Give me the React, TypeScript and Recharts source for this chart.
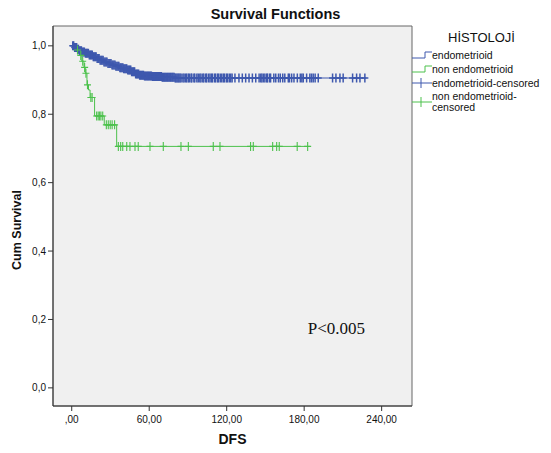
import React from 'react';
import {
  ComposedChart, Line, Scatter, XAxis, YAxis, ReferenceArea, ReferenceDot,
} from 'recharts';

// step points: [time, cumulative survival]
const endoSteps: [number, number][] = [
  [0, 1.0], [2, 0.995], [4, 0.99], [6, 0.986], [8, 0.982], [10, 0.978], [13, 0.973],
  [16, 0.968], [19, 0.963], [22, 0.958], [25, 0.953], [28, 0.948], [31, 0.944],
  [34, 0.94], [37, 0.936], [40, 0.933], [43, 0.929], [46, 0.924], [49, 0.918],
  [52, 0.914], [56, 0.912], [62, 0.91], [70, 0.908], [80, 0.906], [228.3, 0.906],
];

const nonEndoSteps: [number, number][] = [
  [0, 1.0], [3.9, 0.988], [6.4, 0.972], [7.8, 0.955], [9.5, 0.937], [10.5, 0.92],
  [11.8, 0.886], [13.0, 0.871], [14.2, 0.849], [17.7, 0.795], [25.2, 0.769],
  [34.8, 0.706], [184.5, 0.706],
];

const endoCensored: number[] = [
  0.8, 1.5, 2.3, 3.1, 3.8, 4.6, 5.2, 6.0, 6.9, 7.5, 8.3, 9.1, 9.8, 10.6, 11.4, 12.0,
  12.9, 13.6, 14.4, 15.1, 15.9, 16.7, 17.4, 18.2, 18.9, 19.7, 20.5, 21.2, 22.0, 22.8,
  23.5, 24.3, 25.0, 25.8, 26.6, 27.3, 28.1, 28.9, 29.6, 30.4, 31.2, 31.9, 32.7, 33.5,
  34.2, 35.0, 35.8, 36.5, 37.3, 38.0, 38.8, 39.6, 40.3, 41.1, 41.9, 42.6, 43.4, 44.2,
  44.9, 45.7, 46.4, 47.2, 48.0, 48.7, 49.5, 50.3, 51.0, 51.8, 52.6, 53.3, 54.1, 54.9,
  55.6, 56.4, 57.1, 57.9, 58.7, 59.4, 60.2, 61.0, 61.7, 62.5, 63.3, 64.0, 64.8, 65.6,
  66.3, 67.1, 67.8, 68.6, 69.4, 70.1, 70.9, 71.7, 72.4, 73.2, 74.0, 74.7, 75.5, 76.3,
  77.0, 77.8, 78.5, 79.3, 80.1, 80.8, 81.6, 82.4, 83.1, 83.9, 84.7, 86.1, 87.0, 88.2,
  89.0, 90.3, 91.1, 92.4, 93.0, 94.6, 95.3, 96.9, 98.0, 99.2, 100.1, 101.5, 102.3,
  103.8, 104.5, 106.0, 107.1, 108.3, 109.0, 110.6, 111.4, 112.9, 113.6, 115.0, 116.2,
  117.5, 118.3, 119.8, 120.6, 122.0, 123.1, 124.2, 126.4, 129.5, 132.1, 134.7, 137.3,
  139.9, 142.5, 145.1, 146.4, 147.3, 148.5, 149.6, 151.0, 151.6, 153.2, 154.0, 156.5,
  158.0, 160.1, 161.5, 163.4, 165.0, 167.7, 168.6, 170.3, 172.1, 174.7, 177.0, 178.2,
  179.3, 181.9, 184.4, 185.7, 187.0, 188.5, 190.9, 202.0, 204.6, 207.7, 210.2, 217.5,
  220.6, 223.2, 227.0,
];

const nonEndoCensored: number[] = [
  4.5, 7.0, 8.5, 10.0, 11.0, 12.2, 14.8, 15.8, 19.3, 20.5, 21.6, 22.6, 24.0, 26.8,
  28.3, 29.8, 31.3, 33.2, 36.1, 37.9, 39.5, 42.6, 45.1, 49.0, 51.5, 60.6, 70.9, 84.6,
  90.3, 109.6, 114.8, 138.5, 140.6, 155.6, 158.7, 160.7, 174.6, 182.7,
];

const xTicks = [0, 60, 120, 180, 240];
const yTicks = [0, 0.2, 0.4, 0.6, 0.8, 1.0];
const xDomain: [number, number] = [-14.5, 263.5];
const yDomain: [number, number] = [-0.053, 1.058];

const BLUE = '#3e58ae';
const GREEN = '#4cc14c';
const FONT = '"Liberation Sans", Arial, sans-serif';

const toRows = (steps: [number, number][]) => steps.map(([t, s]) => ({ t, s }));
const survAt = (steps: [number, number][], t: number) => {
  let s = steps[0][1];
  for (const [st, sv] of steps) if (st <= t) s = sv;
  return s;
};
const censorRows = (times: number[], steps: [number, number][]) =>
  times.map((t) => ({ t, s: survAt(steps, t) }));

const Plus = (color: string, w: number) => (props: any) => {
  const { cx, cy } = props;
  if (cx == null || cy == null) return <g />;
  return (
    <path
      d={`M${cx},${cy - 4.5}V${cy + 4.5}M${cx - 3.5},${cy}H${cx + 3.5}`}
      stroke={color}
      strokeWidth={w}
      fill="none"
    />
  );
};

const legendItems = [
  { name: 'endometrioid', color: BLUE, kind: 'step' },
  { name: 'non endometrioid', color: GREEN, kind: 'step' },
  { name: 'endometrioid-censored', color: BLUE, kind: 'plus' },
  { name: 'non endometrioid-\ncensored', color: GREEN, kind: 'plus' },
];

const LegendBox = () => (
  <div style={{ position: 'absolute', left: 412, top: 30, fontFamily: FONT, color: '#111' }}>
    <div style={{ fontSize: 13, marginLeft: 36, marginBottom: 4 }}>HİSTOLOJİ</div>
    {legendItems.map((it) => (
      <div key={it.name} style={{ display: 'flex', alignItems: 'center', fontSize: 10.5, lineHeight: '11px', marginBottom: 2 }}>
        <svg width={20} height={12} style={{ flex: 'none' }}>
          {it.kind === 'step' ? (
            <path d="M0,9H13V3H20" stroke={it.color} fill="none" strokeWidth={1} />
          ) : (
            <path d="M0,6H20M9,1V11" stroke={it.color} fill="none" strokeWidth={1} />
          )}
        </svg>
        <span style={{ whiteSpace: 'pre' }}>{it.name}</span>
      </div>
    ))}
  </div>
);

const fmtX = (v: number) => (v === 0 ? ',00' : v.toFixed(2).replace('.', ','));
const fmtY = (v: number) => v.toFixed(1).replace('.', ',');

export default function App() {
  return (
    <div style={{ position: 'absolute', left: 0, top: 0, width: 551, height: 453, background: '#fff' }}>
      <div
        style={{
          position: 'absolute', left: 0, width: 551, top: 6, textAlign: 'center',
          fontFamily: FONT, fontWeight: 'bold', fontSize: 14.5, color: '#111',
        }}
      >
        Survival Functions
      </div>
      <ComposedChart
        width={551}
        height={453}
        margin={{ top: 26, right: 139, bottom: 17, left: 0 }}
        style={{ fontFamily: FONT }}
      >
        <XAxis
          type="number"
          dataKey="t"
          domain={xDomain}
          ticks={xTicks}
          tickFormatter={fmtX}
          allowDataOverflow
          height={30}
          tickSize={5}
          axisLine={{ stroke: '#333' }}
          tickLine={{ stroke: '#333' }}
          tick={{ fill: '#111', fontSize: 10, dy: 3 }}
          label={{ value: 'DFS', position: 'bottom', offset: -2, fill: '#111', fontSize: 14, fontWeight: 'bold' }}
        />
        <YAxis
          type="number"
          dataKey="s"
          domain={yDomain}
          ticks={yTicks}
          tickFormatter={fmtY}
          allowDataOverflow
          width={53}
          tickSize={5}
          axisLine={{ stroke: '#333' }}
          tickLine={{ stroke: '#333' }}
          tick={{ fill: '#111', fontSize: 10 }}
          label={{
            content: (p: any) => {
              const vb = p.viewBox;
              const x = vb.x + 17;
              const y = vb.y + vb.height / 2 + 14;
              return (
                <text
                  x={x}
                  y={y}
                  transform={`rotate(-90, ${x}, ${y})`}
                  textAnchor="middle"
                  dominantBaseline="central"
                  fontSize={12.5}
                  fontWeight="bold"
                  fill="#111"
                >
                  Cum Survival
                </text>
              );
            },
          }}
        />
        <ReferenceArea
          x1={xDomain[0]}
          x2={xDomain[1]}
          y1={yDomain[0]}
          y2={yDomain[1]}
          fill="#f0f0f0"
          fillOpacity={1}
          stroke="#666"
          strokeWidth={1}
        />
        <Line
          data={toRows(endoSteps)}
          dataKey="s"
          type="stepAfter"
          stroke={BLUE}
          strokeWidth={1.2}
          dot={false}
          activeDot={false}
          isAnimationActive={false}
        />
        <Line
          data={toRows(nonEndoSteps)}
          dataKey="s"
          type="stepAfter"
          stroke={GREEN}
          strokeWidth={1}
          dot={false}
          activeDot={false}
          isAnimationActive={false}
        />
        <Scatter
          data={censorRows(endoCensored, endoSteps)}
          dataKey="s"
          shape={Plus(BLUE, 1.5)}
          isAnimationActive={false}
        />
        <Scatter
          data={censorRows(nonEndoCensored, nonEndoSteps)}
          dataKey="s"
          shape={Plus(GREEN, 1.1)}
          isAnimationActive={false}
        />
        <ReferenceDot
          x={205}
          y={0.175}
          r={0}
          fill="none"
          stroke="none"
          label={{ value: 'P<0.005', position: 'center', fontFamily: '"Liberation Serif", "Times New Roman", serif', fontSize: 17, fill: '#111' }}
        />
      </ComposedChart>
      <LegendBox />
    </div>
  );
}
